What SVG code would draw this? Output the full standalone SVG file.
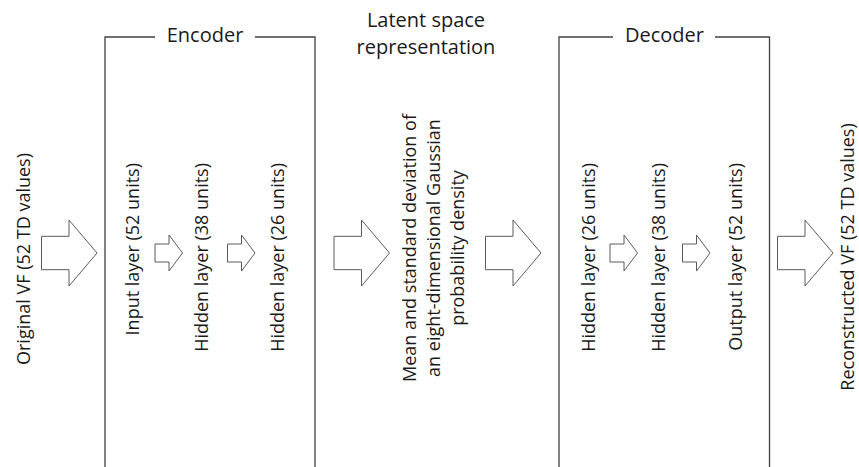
<svg xmlns="http://www.w3.org/2000/svg" xmlns:xlink="http://www.w3.org/1999/xlink" width="859" height="467" viewBox="0 0 859 467">
<style>
  .t { font-family: "Open Sans", "Noto Sans", sans-serif; fill: #1a1a1a; }
  .big { font-size: 20px; }
  .rot { font-size: 18px; }
  .box { fill: none; stroke: #404040; stroke-width: 1.3; }
  .arr { fill: #ffffff; stroke: #5a5a5a; stroke-width: 1; stroke-linejoin: miter; }
</style>
<defs>
  <path id="bigArrow" d="M0,-16.7 H27.5 V-33 L55.5,0 L27.5,33 V16.7 H0 Z"/>
  <path id="smallArrow" d="M0,-9 H14 V-18 L27.5,0 L14,18 V9 H0 Z"/>
</defs>
<rect width="859" height="467" fill="#ffffff"/>

<g id="original-vf">
  <text class="t rot" text-anchor="middle" transform="translate(30,259) rotate(-90)">Original VF (52 TD values)</text>
</g>

<g id="encoder">
  <path class="box" d="M155,37 H105 V467 M255,37 H315 V467"/>
  <text class="t big" x="205" y="42.3" text-anchor="middle">Encoder</text>
  <g id="enc-input">
    <text class="t rot" text-anchor="end" transform="translate(139,163) rotate(-90)">Input layer (52 units)</text>
  </g>
  <g id="enc-hidden38">
    <text class="t rot" text-anchor="end" transform="translate(207.5,163) rotate(-90)">Hidden layer (38 units)</text>
  </g>
  <g id="enc-hidden26">
    <text class="t rot" text-anchor="end" transform="translate(283.5,163) rotate(-90)">Hidden layer (26 units)</text>
  </g>
</g>

<g id="latent">
  <text class="t big" x="426" y="26.7" text-anchor="middle">Latent space</text>
  <text class="t big" x="426" y="54.3" text-anchor="middle">representation</text>
  <text class="t rot" text-anchor="middle" transform="translate(416,248) rotate(-90)">Mean and standard deviation of</text>
  <text class="t rot" text-anchor="middle" transform="translate(440,248) rotate(-90)">an eight-dimensional  Gaussian</text>
  <text class="t rot" text-anchor="middle" transform="translate(463.5,248) rotate(-90)">probability density</text>
</g>

<g id="decoder">
  <path class="box" d="M613,37 H559 V467 M715,37 H769.5 V467"/>
  <text class="t big" x="664.5" y="42.3" text-anchor="middle">Decoder</text>
  <g id="dec-hidden26">
    <text class="t rot" text-anchor="end" transform="translate(595,163) rotate(-90)">Hidden layer (26 units)</text>
  </g>
  <g id="dec-hidden38">
    <text class="t rot" text-anchor="end" transform="translate(665,163) rotate(-90)">Hidden layer (38 units)</text>
  </g>
  <g id="dec-output">
    <text class="t rot" text-anchor="end" transform="translate(741.5,163) rotate(-90)">Output layer (52 units)</text>
  </g>
</g>

<g id="reconstructed-vf">
  <text class="t rot" text-anchor="middle" transform="translate(854,257) rotate(-90)">Reconstructed  VF (52 TD values)</text>
</g>

<g id="connectors">
  <use xlink:href="#bigArrow" class="arr" x="41.5" y="253"/>
  <use xlink:href="#smallArrow" class="arr" x="155" y="253"/>
  <use xlink:href="#smallArrow" class="arr" x="227.5" y="253"/>
  <use xlink:href="#bigArrow" class="arr" x="334" y="253"/>
  <use xlink:href="#bigArrow" class="arr" x="485.5" y="253"/>
  <use xlink:href="#smallArrow" class="arr" x="610" y="253"/>
  <use xlink:href="#smallArrow" class="arr" x="682.5" y="253"/>
  <use xlink:href="#bigArrow" class="arr" x="777.5" y="253"/>
</g>
</svg>
